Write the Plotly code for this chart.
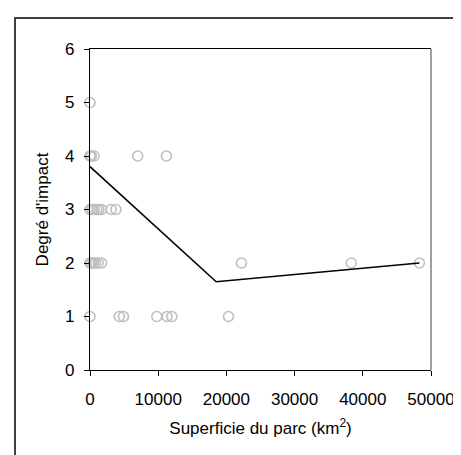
import plotly.graph_objects as go

# Observed parks: surface (km²) and impact degree
area_km2 = [0,
            0, 200, 600, 7000, 11200,
            0, 300, 600, 1000, 1300, 1700, 3100, 3800,
            0, 200, 500, 800, 1200, 1700, 22200, 38300, 48300,
            0, 4300, 4900, 9800, 11300, 12000, 20300]
impact = [5,
          4, 4, 4, 4, 4,
          3, 3, 3, 3, 3, 3, 3, 3,
          2, 2, 2, 2, 2, 2, 2, 2, 2,
          1, 1, 1, 1, 1, 1, 1]

# Fitted piecewise trend line
trend_x = [0, 18500, 48300]
trend_y = [3.8, 1.65, 2.0]

x_ticks = [0, 10000, 20000, 30000, 40000, 50000]
y_ticks = [0, 1, 2, 3, 4, 5, 6]

W, H = 461, 455
L, R, T, B = 82, 38, 41, 93
pw, ph = W - L - R, H - T - B

fig = go.Figure()
fig.add_trace(go.Scatter(
    x=area_km2, y=impact, mode="markers",
    marker=dict(symbol="circle-open", size=10, color="#bfbfbf",
                line=dict(width=1.6, color="#bfbfbf")),
    cliponaxis=False, showlegend=False, hoverinfo="x+y"))
fig.add_trace(go.Scatter(
    x=trend_x, y=trend_y, mode="lines",
    line=dict(color="black", width=1.6),
    cliponaxis=False, showlegend=False))

font = dict(family="Liberation Sans, Arial, sans-serif", size=17, color="black")

fig.update_layout(
    width=W, height=H,
    margin=dict(l=L, r=R, t=T, b=B, pad=0),
    paper_bgcolor="white", plot_bgcolor="white",
    font=font,
    xaxis=dict(
        range=[0, 50000], tickvals=x_ticks, ticktext=[str(v) for v in x_ticks],
        showgrid=False, zeroline=False,
        showline=True, linecolor="black", linewidth=1.3, mirror=True,
        ticks="outside", ticklen=5, tickwidth=1.2, tickcolor="black",
        tickfont=font, ticklabelstandoff=8,
        title=dict(text="Superficie du parc (km<sup>2</sup>)", font=font, standoff=14),
        automargin=False, fixedrange=True),
    yaxis=dict(
        range=[0, 6], tickvals=y_ticks, ticktext=[str(v) for v in y_ticks],
        showgrid=False, zeroline=False,
        showline=True, linecolor="black", linewidth=1.3,
        ticks="outside", ticklen=5, tickwidth=1.2, tickcolor="black",
        tickfont=font, ticklabelstandoff=6,
        title=dict(text="Degré d'impact", font=font, standoff=12),
        automargin=False, fixedrange=True),
    shapes=[
        # right plot border (grey)
        dict(type="line", xref="paper", yref="paper", x0=1, x1=1, y0=0, y1=1,
             line=dict(color="#808080", width=1.5)),
        # outer chart frame (cropped at right and bottom)
        dict(type="rect", xref="paper", yref="paper",
             x0=(7 - L) / pw, x1=(490 - L) / pw,
             y0=(H - B - 490) / ph, y1=(H - B - 10) / ph,
             line=dict(color="#404040", width=2), fillcolor="rgba(0,0,0,0)",
             layer="below"),
    ],
)

fig.write_html("out.html")
